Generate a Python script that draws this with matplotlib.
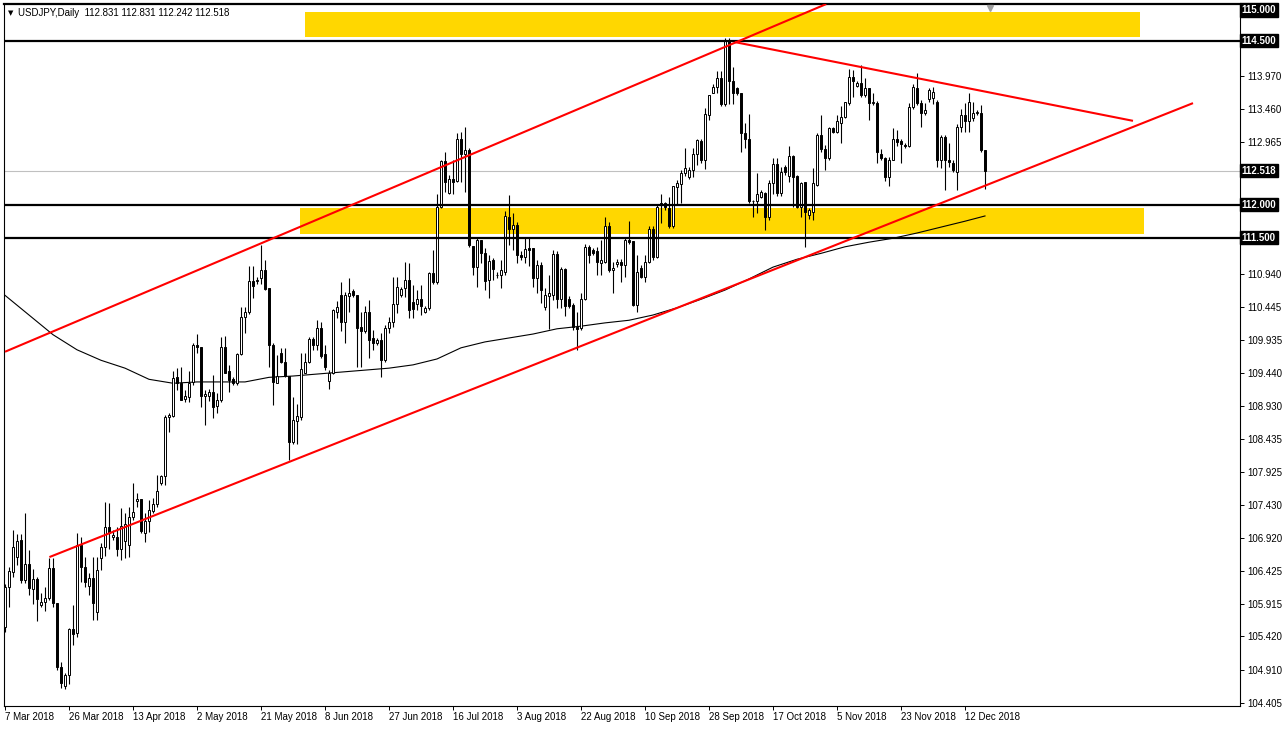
import matplotlib
matplotlib.use('Agg')
import matplotlib.pyplot as plt
import pandas as pd

# USDJPY daily, 7 Mar 2018 - 18 Dec 2018 (broker feed has Sunday bars)
opens = [
    105.57, 106.17, 106.41, 106.63, 106.89, 106.28, 106.52, 106.14, 106.30, 105.90, 105.95, 106.01,
    106.46, 105.93, 104.95, 104.66, 104.83, 105.53, 105.47, 106.81, 106.48, 106.19, 106.31, 105.79,
    106.61, 106.79, 107.09, 106.94, 106.94, 106.75, 106.88, 106.81, 107.24, 107.49, 107.51, 107.00,
    107.18, 107.34, 107.44, 107.76, 107.87, 108.76, 108.78, 109.37, 109.29, 109.04, 109.07, 109.30,
    109.86, 109.84, 109.09, 109.09, 109.14, 108.93, 109.02, 109.84, 109.46, 109.35, 109.29, 109.73,
    110.29, 110.36, 110.84, 110.84, 110.88, 111.00, 110.73, 109.86, 109.29, 109.74, 109.60, 109.39,
    108.39, 108.71, 108.77, 109.44, 109.60, 109.95, 109.86, 110.12, 109.73, 109.32, 109.44, 110.37,
    110.62, 110.22, 110.61, 110.69, 110.62, 110.14, 110.07, 110.37, 109.97, 109.89, 109.94, 109.63,
    110.12, 110.21, 110.49, 110.62, 110.73, 110.86, 110.52, 110.49, 110.56, 110.37, 110.42, 110.96,
    110.83, 111.96, 112.67, 112.18, 112.39, 112.37, 113.01, 112.78, 112.84, 111.37, 111.05, 111.46,
    111.27, 110.85, 111.16, 110.93, 110.93, 110.98, 111.82, 111.63, 111.69, 111.24, 111.21, 111.34,
    111.34, 110.89, 111.08, 110.44, 110.61, 110.63, 111.25, 110.56, 111.02, 110.57, 110.47, 110.14,
    110.12, 110.57, 111.35, 111.31, 111.29, 111.12, 111.13, 111.68, 111.00, 111.10, 111.13, 111.08,
    111.46, 111.45, 110.47, 111.03, 110.90, 111.13, 111.63, 111.20, 112.03, 112.02, 111.95, 111.67,
    112.27, 112.32, 112.48, 112.42, 112.53, 112.77, 112.98, 112.69, 113.37, 113.71, 113.79, 113.94,
    113.54, 114.49, 113.88, 113.78, 113.70, 113.10, 113.01, 112.06, 112.06, 112.12, 112.18, 111.82,
    112.33, 112.62, 112.18, 112.57, 112.44, 112.74, 112.44, 111.97, 112.35, 111.84, 111.89, 112.30,
    113.06, 112.85, 112.71, 113.17, 113.11, 113.25, 113.34, 113.55, 113.95, 113.81, 113.85, 113.67,
    113.78, 113.55, 113.55, 112.77, 112.71, 112.43, 112.69, 113.01, 112.98, 112.91, 112.90, 113.49,
    113.78, 113.55, 113.40, 113.62, 113.63, 113.57, 112.68, 113.03, 112.69, 112.64, 112.50, 113.19,
    113.37, 113.27, 113.33, 113.40, 113.40, 112.831,
]
highs = [
    106.22, 106.48, 107.04, 106.98, 106.98, 107.30, 106.74, 106.45, 106.33, 106.08, 106.17, 106.62,
    106.62, 105.93, 105.03, 104.86, 105.55, 105.90, 107.00, 106.94, 106.63, 106.39, 106.63, 106.63,
    106.84, 107.47, 107.45, 107.04, 107.09, 107.38, 107.30, 107.39, 107.76, 107.60, 107.51, 107.30,
    107.50, 107.53, 107.88, 107.88, 108.80, 108.82, 109.46, 109.51, 109.53, 109.18, 109.46, 109.89,
    110.03, 109.84, 109.18, 109.19, 109.40, 109.13, 109.99, 110.00, 109.56, 109.38, 109.74, 110.44,
    110.44, 111.07, 111.07, 110.90, 111.39, 111.16, 110.73, 109.89, 109.71, 109.82, 109.81, 109.39,
    109.07, 108.97, 109.74, 109.74, 109.98, 109.98, 110.25, 110.22, 109.86, 109.48, 110.41, 110.53,
    110.83, 110.67, 110.89, 110.71, 110.62, 110.37, 110.45, 110.55, 110.09, 109.97, 110.04, 110.17,
    110.29, 110.90, 110.90, 110.75, 111.13, 111.12, 110.78, 110.70, 110.78, 110.45, 110.98, 111.31,
    112.17, 112.69, 112.81, 112.45, 112.68, 113.09, 113.11, 113.19, 112.86, 111.37, 111.49, 111.47,
    111.34, 111.24, 111.19, 110.98, 111.16, 111.90, 112.15, 111.87, 111.74, 111.29, 111.51, 111.51,
    111.34, 111.16, 111.13, 110.73, 110.93, 111.31, 111.29, 111.05, 111.03, 110.61, 110.50, 110.37,
    110.65, 111.41, 111.39, 111.34, 111.36, 111.46, 111.82, 111.74, 111.13, 111.17, 111.17, 111.49,
    111.76, 111.45, 111.24, 111.08, 111.24, 111.67, 111.67, 112.00, 112.17, 112.05, 112.12, 112.28,
    112.38, 112.53, 112.86, 112.58, 112.86, 113.00, 113.01, 113.47, 113.67, 113.84, 114.04, 114.04,
    114.54, 114.54, 114.10, 113.80, 113.70, 113.24, 113.39, 112.07, 112.48, 112.23, 112.20, 112.38,
    112.71, 112.71, 112.58, 112.60, 112.89, 112.76, 112.45, 112.35, 112.35, 111.95, 112.56, 113.09,
    113.37, 112.91, 113.19, 113.19, 113.37, 113.50, 113.57, 114.07, 114.06, 113.88, 114.13, 113.93,
    113.78, 113.70, 113.58, 112.85, 112.73, 112.73, 113.17, 113.14, 113.01, 112.94, 113.55, 113.84,
    114.01, 113.59, 113.55, 113.78, 113.80, 113.60, 113.06, 113.06, 112.94, 112.68, 113.23, 113.46,
    113.55, 113.71, 113.56, 113.45, 113.52, 112.831,
]
lows = [
    105.49, 105.87, 106.33, 106.51, 106.24, 106.24, 106.05, 105.91, 105.65, 105.87, 105.81, 105.98,
    105.87, 104.91, 104.63, 104.62, 104.70, 105.29, 105.41, 106.25, 106.17, 106.05, 105.67, 105.67,
    106.43, 106.64, 106.76, 106.89, 106.64, 106.59, 106.62, 106.63, 107.20, 107.40, 107.00, 106.86,
    107.02, 107.30, 107.40, 107.73, 107.73, 108.54, 108.77, 109.18, 109.02, 109.00, 109.00, 109.25,
    109.74, 108.92, 108.64, 109.01, 108.75, 108.83, 109.00, 109.43, 109.14, 109.25, 109.25, 109.71,
    110.05, 110.34, 110.58, 110.79, 110.80, 110.70, 109.53, 108.95, 109.28, 109.59, 109.38, 108.11,
    108.36, 108.36, 108.72, 109.43, 109.59, 109.79, 109.79, 109.66, 109.48, 109.19, 109.42, 110.27,
    110.07, 109.90, 110.37, 110.60, 109.53, 109.53, 110.04, 109.66, 109.79, 109.86, 109.38, 109.60,
    110.05, 110.14, 110.35, 110.59, 110.60, 110.27, 110.27, 110.40, 110.32, 110.35, 110.40, 110.80,
    110.80, 111.95, 112.20, 112.17, 112.17, 112.35, 112.35, 112.20, 111.36, 110.93, 110.75, 111.11,
    110.70, 110.58, 110.85, 110.88, 110.73, 110.93, 111.39, 111.31, 111.11, 111.16, 111.11, 111.06,
    110.75, 110.65, 110.50, 110.40, 110.10, 110.55, 110.42, 110.42, 110.30, 110.43, 110.09, 109.79,
    110.09, 110.55, 111.11, 111.24, 110.93, 110.93, 111.11, 110.98, 110.66, 111.05, 110.83, 110.90,
    111.41, 110.45, 110.37, 110.88, 110.83, 111.12, 111.16, 111.19, 111.73, 111.92, 111.65, 111.65,
    112.00, 112.02, 112.44, 112.40, 112.43, 112.61, 112.63, 112.54, 113.30, 113.70, 113.71, 113.51,
    113.51, 113.54, 113.54, 113.67, 112.81, 112.86, 112.03, 111.82, 111.87, 112.10, 111.62, 111.77,
    112.17, 112.13, 112.14, 112.45, 112.35, 111.97, 111.95, 111.82, 111.36, 111.79, 111.77, 112.28,
    112.81, 112.53, 112.68, 113.09, 113.09, 112.94, 113.32, 113.52, 113.65, 113.80, 113.65, 113.65,
    113.29, 113.52, 112.63, 112.68, 112.37, 112.29, 112.68, 112.89, 112.64, 112.86, 112.88, 113.46,
    113.52, 113.19, 113.37, 113.57, 113.54, 112.58, 112.56, 112.23, 112.58, 112.50, 112.22, 113.11,
    113.11, 113.11, 113.27, 113.37, 112.81, 112.242,
]
closes = [
    106.18, 106.42, 106.79, 106.88, 106.28, 106.52, 106.16, 106.30, 105.99, 105.95, 106.01, 106.46,
    105.93, 104.95, 104.71, 104.83, 105.53, 105.46, 106.81, 106.48, 106.25, 106.31, 105.93, 106.43,
    106.79, 107.09, 106.99, 106.97, 106.75, 107.10, 107.13, 107.24, 107.32, 107.51, 107.03, 107.18,
    107.35, 107.44, 107.63, 107.86, 108.77, 108.80, 109.36, 109.29, 109.03, 109.09, 109.28, 109.86,
    109.83, 109.09, 109.11, 109.14, 108.92, 109.02, 109.84, 109.44, 109.33, 109.29, 109.73, 110.29,
    110.37, 110.84, 110.76, 110.86, 111.00, 110.72, 109.86, 109.30, 109.39, 109.60, 109.39, 108.39,
    108.72, 108.78, 109.49, 109.60, 109.95, 109.86, 110.12, 109.70, 109.52, 109.44, 110.39, 110.44,
    110.22, 110.62, 110.65, 110.62, 110.12, 110.07, 110.37, 109.94, 109.89, 109.94, 109.63, 110.12,
    110.22, 110.49, 110.75, 110.71, 110.86, 110.40, 110.41, 110.56, 110.45, 110.42, 110.96, 110.83,
    111.97, 112.67, 112.35, 112.39, 112.35, 113.01, 112.78, 112.84, 111.39, 111.05, 111.46, 111.26,
    110.84, 111.15, 111.02, 110.93, 111.01, 111.83, 111.63, 111.69, 111.24, 111.21, 111.32, 111.31,
    110.89, 111.08, 110.70, 110.63, 110.66, 111.25, 110.56, 111.02, 110.46, 110.46, 110.14, 110.10,
    110.57, 111.35, 111.24, 111.27, 111.13, 111.16, 111.68, 111.00, 111.03, 111.13, 111.08, 111.46,
    111.44, 110.47, 110.98, 110.90, 111.13, 111.63, 111.20, 111.97, 112.00, 111.97, 111.67, 112.28,
    112.34, 112.48, 112.56, 112.53, 112.77, 112.99, 112.69, 113.38, 113.67, 113.79, 113.94, 113.54,
    114.49, 113.88, 113.70, 113.70, 113.10, 113.01, 112.06, 112.06, 112.17, 112.19, 111.82, 112.33,
    112.62, 112.18, 112.50, 112.50, 112.74, 112.43, 111.97, 112.33, 111.89, 111.92, 112.33, 113.06,
    112.85, 112.71, 113.17, 113.11, 113.27, 113.34, 113.56, 113.95, 113.88, 113.85, 113.67, 113.78,
    113.55, 113.56, 112.80, 112.71, 112.43, 112.69, 113.01, 112.96, 112.93, 112.89, 113.49, 113.79,
    113.55, 113.40, 113.45, 113.75, 113.72, 112.68, 113.03, 112.69, 112.66, 112.53, 113.19, 113.37,
    113.27, 113.56, 113.40, 113.42, 112.831, 112.518,
]

# moving average at every 6th bar (plus last bar)
ma_bars = [0, 6, 12, 18, 24, 30, 36, 42, 48, 54, 60, 66, 72, 78, 84, 90, 96, 102, 108, 114, 120,
           126, 132, 138, 144, 150, 156, 162, 168, 174, 180, 186, 192, 198, 204, 210, 216, 222,
           228, 234, 240, 245]
ma_values = [110.62, 110.32, 110.02, 109.79, 109.63, 109.51, 109.34, 109.28, 109.30, 109.30, 109.30,
             109.37, 109.39, 109.42, 109.45, 109.48, 109.51, 109.56, 109.65, 109.82, 109.91, 109.97,
             110.03, 110.11, 110.15, 110.20, 110.24, 110.32, 110.43, 110.56, 110.70, 110.87, 111.05,
             111.17, 111.26, 111.36, 111.43, 111.49, 111.57, 111.66, 111.75, 111.83]

# drawn objects (bar index, price)
trendlines = {
    'upper': (0.0, 109.76, 205.3, 115.06),
    'lower': (11.1, 106.63, 297.0, 113.55),
    'falling': (182.5, 114.48, 282.0, 113.28),
}
zones = [(75.0, 283.75, 114.56, 114.94), (73.75, 284.75, 111.55, 111.95)]
hlines = [114.5, 112.0, 111.5]
top_level = 115.0
bid = 112.518
price_ticks = [113.970, 113.460, 112.965, 110.940, 110.445, 109.935, 109.440, 108.930, 108.435,
               107.925, 107.430, 106.920, 106.425, 105.915, 105.420, 104.910, 104.405]

days = pd.date_range('2018-03-07', '2018-12-18', freq='D')
dates = days[days.dayofweek != 5]
n = len(opens)
idx = list(range(n))

plt.rcParams['font.family'] = ['Liberation Sans', 'DejaVu Sans']

W, H = 1286, 729
fig = plt.figure(figsize=(W / 100, H / 100), dpi=100, facecolor='white')
ax = fig.add_axes([4 / W, 23 / H, 1236 / W, 702 / H])
ax.set_xlim(-0.25, 308.75)
ax.set_ylim(104.36, 115.061)

for x0, x1, y0, y1 in zones:
    ax.fill_between([x0, x1], y0, y1, color='#ffd700', lw=0, zorder=1)

ax.axhline(bid, color='#c0c0c0', lw=0.8, zorder=1.5)

ax.plot(ma_bars, ma_values, color='black', lw=0.8, zorder=2)

ax.vlines(idx, lows, highs, color='black', lw=0.8, zorder=3)
bottoms = [min(o, c) for o, c in zip(opens, closes)]
heights = [abs(c - o) for o, c in zip(opens, closes)]
faces = ['white' if c >= o else 'black' for o, c in zip(opens, closes)]
ax.bar(idx, heights, bottom=bottoms, width=0.5, color=faces, edgecolor='black', lw=0.7, zorder=4)

for lvl in hlines:
    ax.axhline(lvl, color='black', lw=1.6, zorder=5)

for x0, y0, x1, y1 in trendlines.values():
    ax.plot([x0, x1], [y0, y1], color='red', lw=1.5, zorder=6, solid_capstyle='butt')

for s in ax.spines.values():
    s.set_linewidth(0.8)
ax.spines['top'].set_linewidth(1.6)

# price scale on the right
ax.yaxis.tick_right()
ax.set_yticks(price_ticks)
ax.set_yticklabels([f'{v:.3f}' for v in price_ticks])
ax.tick_params(axis='y', length=3, width=0.7, labelsize=7, pad=2)
ytr = ax.get_yaxis_transform()
for lvl in [top_level] + hlines + [bid]:
    ypos = 114.97 if lvl == top_level else lvl
    ax.text(1.0015, ypos, f'{lvl:.3f}', transform=ytr, ha='left', va='center', fontsize=7,
            color='white', fontweight='bold',
            bbox=dict(facecolor='black', edgecolor='black', pad=1.2), clip_on=False)

# date scale
date_pos = list(range(0, n, 16))
ax.set_xticks(date_pos)
ax.set_xticklabels([f'{dates[i].day} {dates[i]:%b %Y}' for i in date_pos], ha='left')
ax.tick_params(axis='x', length=3, width=0.7, labelsize=7, pad=1)

fig.text(8 / W, 1 - 13 / H, '\u25bc', fontsize=5, va='center', family='DejaVu Sans')
fig.text(18 / W, 1 - 13 / H, 'USDJPY,Daily  112.831 112.831 112.242 112.518', fontsize=7, va='center')
ax.plot([246.2], [115.0], marker='v', color='#a0a0a0', ms=4, zorder=7, clip_on=False)

fig.savefig('out.png', dpi=100, facecolor='white')
